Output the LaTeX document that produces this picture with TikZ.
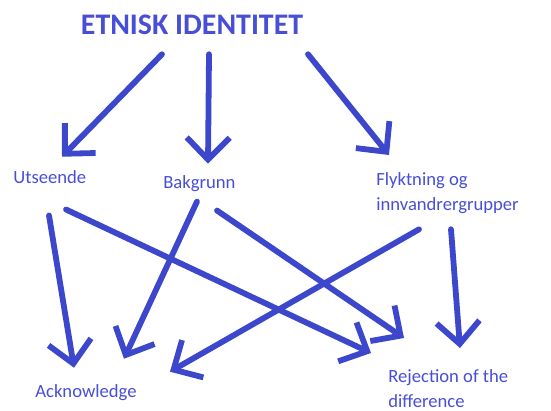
\documentclass[tikz,border=0pt]{standalone}
\usepackage{fontspec}
\setmainfont{Carlito}
\usetikzlibrary{calc}
\usetikzlibrary{arrows.meta}

\definecolor{strek}{RGB}{61,71,204}
\definecolor{skrift}{RGB}{72,78,214}

\begin{document}
\begin{tikzpicture}[x=0.02cm, y=-0.02cm,
  tekst/.style={text=skrift, inner sep=0, font=\fontsize{10.6}{14.5}\selectfont, align=left},
  pil/.style={strek, line width=3.3pt, line cap=round, -{Straight Barb[length=0.44cm, width=0.86cm]}}]
\useasboundingbox (0,0) rectangle (551,410);
% nodes
\node[text=skrift, inner sep=0, font=\fontsize{17}{20}\selectfont\bfseries] (title) at (192,25) {ETNISK IDENTITET};
\node[tekst, anchor=base west] (uts) at (13,183) {Utseende};
\node[tekst, anchor=base west] (bak) at (163,188) {Bakgrunn};
\node[tekst, anchor=north west] (fly) at (376,172) {Flyktning og\\innvandrergrupper};
\node[tekst, anchor=base west] (ack) at (35,397) {Acknowledge};
\node[tekst, anchor=north west] (rej) at (388,369) {Rejection of the\\difference};
% from the title
\draw[pil] ($(title.south)+(-30,19)$) -- ($(uts.north west)+(49,-13)$);
\draw[pil] ($(title.south)+(17,19)$) -- ($(bak.north west)+(45,-11)$);
\draw[pil] ($(title.south)+(116,19)$) -- ($(fly.north west)+(13,-17)$);
% crossing arrows
\draw[pil] ($(uts.south west)+(36,32)$) -- ($(ack.north west)+(39,-16)$);
\draw[pil] ($(uts.south west)+(53,26)$) -- ($(rej.north west)+(-17,-16)$);
\draw[pil] ($(bak.south west)+(34,10)$) -- ($(ack.north west)+(89,-25)$);
\draw[pil] ($(bak.south west)+(54,19)$) -- ($(rej.north west)+(16,-31)$);
\draw[pil] ($(fly.south west)+(43,15)$) -- ($(ack.north west)+(135,-12)$);
\draw[pil] ($(fly.south west)+(75,15)$) -- ($(rej.north west)+(72,-21)$);
\end{tikzpicture}
\end{document}
